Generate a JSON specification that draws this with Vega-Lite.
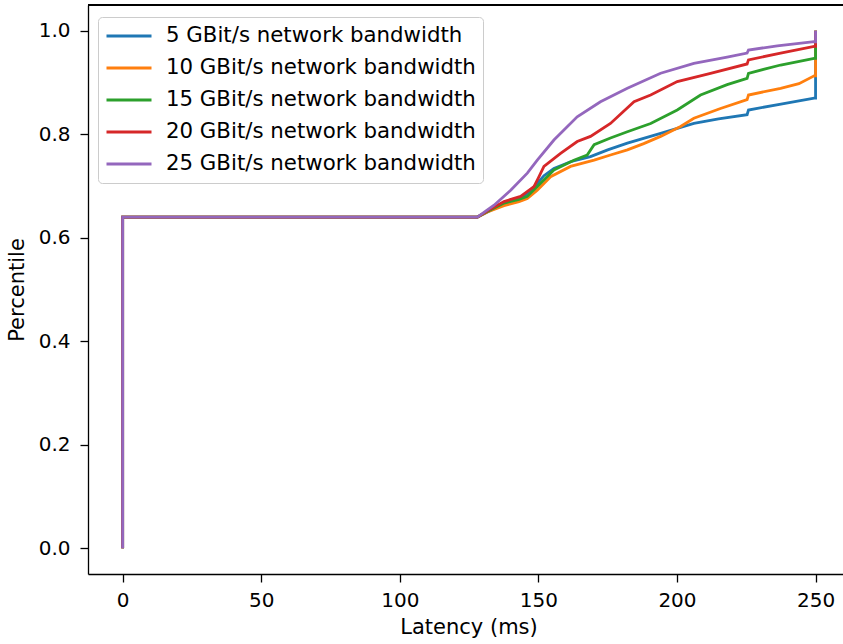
{
  "$schema": "https://vega.github.io/schema/vega-lite/v6.json",
  "autosize": {"type": "none"},
  "padding": {"left": 88, "top": 5, "right": 0, "bottom": 70},
  "width": 755,
  "height": 569,
  "config": {
    "view": {"stroke": null},
    "font": "DejaVu Sans",
    "axis": {
      "grid": false,
      "domainColor": "black",
      "domainWidth": 1.3,
      "tickColor": "black",
      "tickWidth": 1.3,
      "tickSize": 8,
      "labelFont": "DejaVu Sans",
      "labelFontSize": 20,
      "labelColor": "black",
      "titleFont": "DejaVu Sans",
      "titleFontSize": 21,
      "titleFontWeight": "normal",
      "titleColor": "black"
    }
  },
  "datasets": {
    "cdf": [
      {"s": "5 GBit/s network bandwidth", "i": 0, "x": 0, "y": 0},
      {"s": "5 GBit/s network bandwidth", "i": 1, "x": 0, "y": 0.64},
      {"s": "5 GBit/s network bandwidth", "i": 2, "x": 128, "y": 0.64},
      {"s": "5 GBit/s network bandwidth", "i": 3, "x": 131.6, "y": 0.65},
      {"s": "5 GBit/s network bandwidth", "i": 4, "x": 137.6, "y": 0.666},
      {"s": "5 GBit/s network bandwidth", "i": 5, "x": 143, "y": 0.676},
      {"s": "5 GBit/s network bandwidth", "i": 6, "x": 146, "y": 0.686},
      {"s": "5 GBit/s network bandwidth", "i": 7, "x": 149.6, "y": 0.705},
      {"s": "5 GBit/s network bandwidth", "i": 8, "x": 152, "y": 0.72},
      {"s": "5 GBit/s network bandwidth", "i": 9, "x": 155.6, "y": 0.734},
      {"s": "5 GBit/s network bandwidth", "i": 10, "x": 161.6, "y": 0.747},
      {"s": "5 GBit/s network bandwidth", "i": 11, "x": 168.8, "y": 0.757},
      {"s": "5 GBit/s network bandwidth", "i": 12, "x": 175, "y": 0.77},
      {"s": "5 GBit/s network bandwidth", "i": 13, "x": 182.1, "y": 0.783},
      {"s": "5 GBit/s network bandwidth", "i": 14, "x": 194.1, "y": 0.802},
      {"s": "5 GBit/s network bandwidth", "i": 15, "x": 206.1, "y": 0.821},
      {"s": "5 GBit/s network bandwidth", "i": 16, "x": 215, "y": 0.83},
      {"s": "5 GBit/s network bandwidth", "i": 17, "x": 225.3, "y": 0.838},
      {"s": "5 GBit/s network bandwidth", "i": 18, "x": 225.8, "y": 0.847},
      {"s": "5 GBit/s network bandwidth", "i": 19, "x": 237, "y": 0.858},
      {"s": "5 GBit/s network bandwidth", "i": 20, "x": 249.5, "y": 0.87},
      {"s": "5 GBit/s network bandwidth", "i": 21, "x": 250, "y": 0.87},
      {"s": "5 GBit/s network bandwidth", "i": 22, "x": 250, "y": 1.0},

      {"s": "10 GBit/s network bandwidth", "i": 0, "x": 0, "y": 0},
      {"s": "10 GBit/s network bandwidth", "i": 1, "x": 0, "y": 0.64},
      {"s": "10 GBit/s network bandwidth", "i": 2, "x": 128, "y": 0.64},
      {"s": "10 GBit/s network bandwidth", "i": 3, "x": 131.6, "y": 0.65},
      {"s": "10 GBit/s network bandwidth", "i": 4, "x": 137.6, "y": 0.662},
      {"s": "10 GBit/s network bandwidth", "i": 5, "x": 143, "y": 0.67},
      {"s": "10 GBit/s network bandwidth", "i": 6, "x": 146, "y": 0.676},
      {"s": "10 GBit/s network bandwidth", "i": 7, "x": 149.6, "y": 0.692},
      {"s": "10 GBit/s network bandwidth", "i": 8, "x": 154.4, "y": 0.718},
      {"s": "10 GBit/s network bandwidth", "i": 9, "x": 161.6, "y": 0.738},
      {"s": "10 GBit/s network bandwidth", "i": 10, "x": 170.1, "y": 0.75},
      {"s": "10 GBit/s network bandwidth", "i": 11, "x": 176, "y": 0.76},
      {"s": "10 GBit/s network bandwidth", "i": 12, "x": 182.1, "y": 0.77},
      {"s": "10 GBit/s network bandwidth", "i": 13, "x": 188, "y": 0.782},
      {"s": "10 GBit/s network bandwidth", "i": 14, "x": 194.1, "y": 0.796},
      {"s": "10 GBit/s network bandwidth", "i": 15, "x": 201.3, "y": 0.815},
      {"s": "10 GBit/s network bandwidth", "i": 16, "x": 206.1, "y": 0.831},
      {"s": "10 GBit/s network bandwidth", "i": 17, "x": 215.7, "y": 0.85},
      {"s": "10 GBit/s network bandwidth", "i": 18, "x": 225.3, "y": 0.867},
      {"s": "10 GBit/s network bandwidth", "i": 19, "x": 225.8, "y": 0.876},
      {"s": "10 GBit/s network bandwidth", "i": 20, "x": 237.4, "y": 0.889},
      {"s": "10 GBit/s network bandwidth", "i": 21, "x": 244, "y": 0.898},
      {"s": "10 GBit/s network bandwidth", "i": 22, "x": 249.5, "y": 0.913},
      {"s": "10 GBit/s network bandwidth", "i": 23, "x": 250, "y": 0.913},
      {"s": "10 GBit/s network bandwidth", "i": 24, "x": 250, "y": 1.0},

      {"s": "15 GBit/s network bandwidth", "i": 0, "x": 0, "y": 0},
      {"s": "15 GBit/s network bandwidth", "i": 1, "x": 0, "y": 0.64},
      {"s": "15 GBit/s network bandwidth", "i": 2, "x": 128, "y": 0.64},
      {"s": "15 GBit/s network bandwidth", "i": 3, "x": 131.6, "y": 0.651},
      {"s": "15 GBit/s network bandwidth", "i": 4, "x": 137.6, "y": 0.667},
      {"s": "15 GBit/s network bandwidth", "i": 5, "x": 143, "y": 0.674},
      {"s": "15 GBit/s network bandwidth", "i": 6, "x": 146, "y": 0.68},
      {"s": "15 GBit/s network bandwidth", "i": 7, "x": 149.6, "y": 0.699},
      {"s": "15 GBit/s network bandwidth", "i": 8, "x": 155.6, "y": 0.731},
      {"s": "15 GBit/s network bandwidth", "i": 9, "x": 162.8, "y": 0.75},
      {"s": "15 GBit/s network bandwidth", "i": 10, "x": 167.6, "y": 0.76},
      {"s": "15 GBit/s network bandwidth", "i": 11, "x": 170.1, "y": 0.78},
      {"s": "15 GBit/s network bandwidth", "i": 12, "x": 176, "y": 0.793},
      {"s": "15 GBit/s network bandwidth", "i": 13, "x": 182.1, "y": 0.805},
      {"s": "15 GBit/s network bandwidth", "i": 14, "x": 190.5, "y": 0.821},
      {"s": "15 GBit/s network bandwidth", "i": 15, "x": 200.1, "y": 0.847},
      {"s": "15 GBit/s network bandwidth", "i": 16, "x": 208.5, "y": 0.876},
      {"s": "15 GBit/s network bandwidth", "i": 17, "x": 218.1, "y": 0.896},
      {"s": "15 GBit/s network bandwidth", "i": 18, "x": 225.3, "y": 0.908},
      {"s": "15 GBit/s network bandwidth", "i": 19, "x": 225.8, "y": 0.918},
      {"s": "15 GBit/s network bandwidth", "i": 20, "x": 237.4, "y": 0.934},
      {"s": "15 GBit/s network bandwidth", "i": 21, "x": 249.5, "y": 0.947},
      {"s": "15 GBit/s network bandwidth", "i": 22, "x": 250, "y": 0.947},
      {"s": "15 GBit/s network bandwidth", "i": 23, "x": 250, "y": 1.0},

      {"s": "20 GBit/s network bandwidth", "i": 0, "x": 0, "y": 0},
      {"s": "20 GBit/s network bandwidth", "i": 1, "x": 0, "y": 0.64},
      {"s": "20 GBit/s network bandwidth", "i": 2, "x": 128, "y": 0.64},
      {"s": "20 GBit/s network bandwidth", "i": 3, "x": 131.6, "y": 0.652},
      {"s": "20 GBit/s network bandwidth", "i": 4, "x": 137.6, "y": 0.67},
      {"s": "20 GBit/s network bandwidth", "i": 5, "x": 143.6, "y": 0.68},
      {"s": "20 GBit/s network bandwidth", "i": 6, "x": 148.4, "y": 0.699},
      {"s": "20 GBit/s network bandwidth", "i": 7, "x": 150, "y": 0.716},
      {"s": "20 GBit/s network bandwidth", "i": 8, "x": 152, "y": 0.738},
      {"s": "20 GBit/s network bandwidth", "i": 9, "x": 158, "y": 0.763},
      {"s": "20 GBit/s network bandwidth", "i": 10, "x": 164, "y": 0.786},
      {"s": "20 GBit/s network bandwidth", "i": 11, "x": 168.8, "y": 0.796},
      {"s": "20 GBit/s network bandwidth", "i": 12, "x": 176, "y": 0.821},
      {"s": "20 GBit/s network bandwidth", "i": 13, "x": 184.5, "y": 0.863},
      {"s": "20 GBit/s network bandwidth", "i": 14, "x": 190.5, "y": 0.876},
      {"s": "20 GBit/s network bandwidth", "i": 15, "x": 200.1, "y": 0.902},
      {"s": "20 GBit/s network bandwidth", "i": 16, "x": 212.1, "y": 0.918},
      {"s": "20 GBit/s network bandwidth", "i": 17, "x": 225.3, "y": 0.936},
      {"s": "20 GBit/s network bandwidth", "i": 18, "x": 225.8, "y": 0.944},
      {"s": "20 GBit/s network bandwidth", "i": 19, "x": 237.4, "y": 0.957},
      {"s": "20 GBit/s network bandwidth", "i": 20, "x": 249.5, "y": 0.97},
      {"s": "20 GBit/s network bandwidth", "i": 21, "x": 250, "y": 0.97},
      {"s": "20 GBit/s network bandwidth", "i": 22, "x": 250, "y": 1.0},

      {"s": "25 GBit/s network bandwidth", "i": 0, "x": 0, "y": 0},
      {"s": "25 GBit/s network bandwidth", "i": 1, "x": 0, "y": 0.64},
      {"s": "25 GBit/s network bandwidth", "i": 2, "x": 128, "y": 0.64},
      {"s": "25 GBit/s network bandwidth", "i": 3, "x": 131.6, "y": 0.654},
      {"s": "25 GBit/s network bandwidth", "i": 4, "x": 134, "y": 0.663},
      {"s": "25 GBit/s network bandwidth", "i": 5, "x": 140, "y": 0.692},
      {"s": "25 GBit/s network bandwidth", "i": 6, "x": 146, "y": 0.725},
      {"s": "25 GBit/s network bandwidth", "i": 7, "x": 149.6, "y": 0.75},
      {"s": "25 GBit/s network bandwidth", "i": 8, "x": 155.6, "y": 0.789},
      {"s": "25 GBit/s network bandwidth", "i": 9, "x": 164, "y": 0.834},
      {"s": "25 GBit/s network bandwidth", "i": 10, "x": 172.4, "y": 0.863},
      {"s": "25 GBit/s network bandwidth", "i": 11, "x": 182.1, "y": 0.889},
      {"s": "25 GBit/s network bandwidth", "i": 12, "x": 194.1, "y": 0.918},
      {"s": "25 GBit/s network bandwidth", "i": 13, "x": 206.1, "y": 0.937},
      {"s": "25 GBit/s network bandwidth", "i": 14, "x": 218.1, "y": 0.949},
      {"s": "25 GBit/s network bandwidth", "i": 15, "x": 225.3, "y": 0.957},
      {"s": "25 GBit/s network bandwidth", "i": 16, "x": 225.8, "y": 0.963},
      {"s": "25 GBit/s network bandwidth", "i": 17, "x": 236.2, "y": 0.971},
      {"s": "25 GBit/s network bandwidth", "i": 18, "x": 249.5, "y": 0.979},
      {"s": "25 GBit/s network bandwidth", "i": 19, "x": 250, "y": 0.979},
      {"s": "25 GBit/s network bandwidth", "i": 20, "x": 250, "y": 1.0}
    ]
  },
  "data": {"name": "cdf"},
  "layer": [
    {
      "encoding": {
        "x": {
          "field": "x", "type": "quantitative",
          "scale": {"domain": [-12.5, 259.9], "nice": false, "zero": false},
          "axis": {"values": [0, 50, 100, 150, 200, 250], "format": "d", "title": "Latency (ms)", "labelPadding": 8, "titlePadding": 6, "titleX": 380.5}
        },
        "y": {
          "field": "y", "type": "quantitative",
          "scale": {"domain": [-0.05, 1.05], "nice": false, "zero": false},
          "axis": {"values": [0, 0.2, 0.4, 0.6, 0.8, 1.0], "format": ".1f", "title": "Percentile", "labelPadding": 10, "titlePadding": 11}
        },
        "color": {
          "field": "s", "type": "nominal",
          "scale": {
            "domain": ["5 GBit/s network bandwidth", "10 GBit/s network bandwidth", "15 GBit/s network bandwidth", "20 GBit/s network bandwidth", "25 GBit/s network bandwidth"],
            "range": ["#1f77b4", "#ff7f0e", "#2ca02c", "#d62728", "#9467bd"]
          },
          "legend": {
            "title": null, "orient": "none", "legendX": 10, "legendY": 12,
            "symbolType": "stroke", "symbolSize": 2025, "symbolStrokeWidth": 2.8,
            "labelFont": "DejaVu Sans", "labelFontSize": 21.3, "labelColor": "black",
            "labelOffset": 13, "labelLimit": 600, "padding": 7, "clipHeight": 24, "rowPadding": 8,
            "fillColor": "white", "strokeColor": "#cccccc", "cornerRadius": 4
          }
        },
        "order": {"field": "i", "type": "quantitative"}
      },
      "layer": [
        {"transform": [{"filter": "datum.s === '5 GBit/s network bandwidth'"}], "mark": {"type": "line", "strokeWidth": 2.8}},
        {"transform": [{"filter": "datum.s === '10 GBit/s network bandwidth'"}], "mark": {"type": "line", "strokeWidth": 2.8}},
        {"transform": [{"filter": "datum.s === '15 GBit/s network bandwidth'"}], "mark": {"type": "line", "strokeWidth": 2.8}},
        {"transform": [{"filter": "datum.s === '20 GBit/s network bandwidth'"}], "mark": {"type": "line", "strokeWidth": 2.8}},
        {"transform": [{"filter": "datum.s === '25 GBit/s network bandwidth'"}], "mark": {"type": "line", "strokeWidth": 2.8}}
      ]
    },
    {
      "mark": {"type": "rule", "color": "black", "strokeWidth": 1.3},
      "encoding": {"y": {"datum": 1.05, "type": "quantitative"}}
    }
  ]
}
